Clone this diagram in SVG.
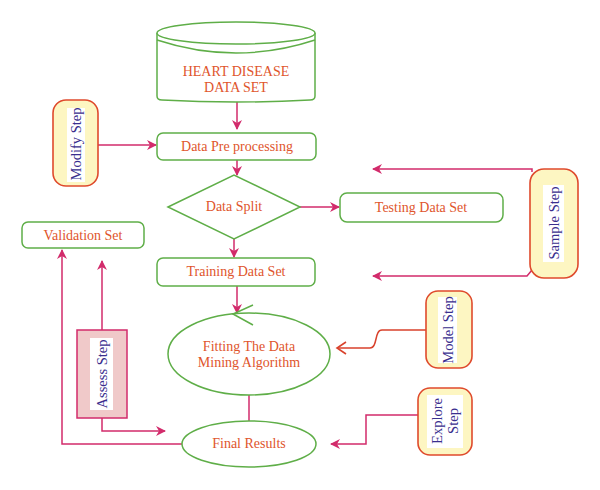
<svg xmlns="http://www.w3.org/2000/svg" width="600" height="490" viewBox="0 0 600 490">
<style>
.box{fill:#fff;stroke:#5fae48;stroke-width:1.5}
.lbl{font-family:"Liberation Serif",serif;font-size:14px;fill:#e0552c;text-anchor:middle;dominant-baseline:central}
.step{fill:#fdf6c2;stroke:#df4a2c;stroke-width:1.6}
.inner{fill:#fff;stroke:none}
.stxt{font-family:"Liberation Serif",serif;font-size:14.5px;fill:#3a2f8e;text-anchor:middle;dominant-baseline:central}
.con{fill:none;stroke:#d22b6b;stroke-width:1.5}
</style>
<defs>
<marker id="ah" viewBox="0 0 10 10" refX="9" refY="5" markerWidth="10" markerHeight="10" markerUnits="userSpaceOnUse" orient="auto">
<path d="M0,0 L10,5 L0,10 L3,5 Z" fill="#d22b6b"/>
</marker>
</defs>
<rect width="600" height="490" fill="#fff"/>

<g id="connectors">
<line class="con" x1="237" y1="100" x2="237" y2="129" marker-end="url(#ah)"/>
<line class="con" x1="98" y1="145" x2="156" y2="145" marker-end="url(#ah)"/>
<line class="con" x1="237" y1="160" x2="237" y2="175" marker-end="url(#ah)"/>
<line class="con" x1="300" y1="207" x2="339" y2="207" marker-end="url(#ah)"/>
<line class="con" x1="234" y1="239" x2="234" y2="257" marker-end="url(#ah)"/>
<polyline class="con" points="532,172 532,169 373,169" marker-end="url(#ah)"/>
<polyline class="con" points="532,270 527,276 373,276" marker-end="url(#ah)"/>
<line class="con" x1="237" y1="286" x2="237" y2="313" marker-end="url(#ah)"/>
<polyline points="253,305 233,314 253,325" fill="none" stroke="#5fae48" stroke-width="1.5"/>
<path d="M426,330 L382,330 C374,330 378,348 370,348 L338,348" fill="none" stroke="#d9422c" stroke-width="1.5"/>
<polyline points="346,342 337,348 346,354" fill="none" stroke="#d9422c" stroke-width="1.6"/>
<line class="con" x1="249" y1="395" x2="249" y2="421"/>
<polyline class="con" points="418,415 366,415 366,444 331,444" marker-end="url(#ah)"/>
<polyline class="con" points="182,444 62,444 62,250" marker-end="url(#ah)"/>
<line class="con" x1="102" y1="330" x2="102" y2="261" marker-end="url(#ah)"/>
<polyline class="con" points="102,418 102,431 165,431" marker-end="url(#ah)"/>
</g>

<g id="dataset">
<path d="M157,33 L157,96 Q157,100 162,100 Q236,104 310,100 Q315,100 315,96 L315,33" fill="#fff" stroke="#5fae48" stroke-width="1.5"/>
<ellipse cx="236" cy="33" rx="79" ry="11" fill="#fff" stroke="#5fae48" stroke-width="1.5"/>
<path d="M157,40 Q236,66 315,40" fill="none" stroke="#5fae48" stroke-width="1.5"/>
<text class="lbl" x="236" y="71" font-size="15">HEART DISEASE</text>
<text class="lbl" x="236" y="87" font-size="15">DATA SET</text>
</g>

<g id="preprocess">
<rect class="box" x="157" y="133" width="159" height="27" rx="6"/>
<text class="lbl" x="237" y="146">Data Pre processing</text>
</g>

<g id="modify">
<rect class="step" x="53" y="100" width="45" height="86" rx="13"/>
<rect class="inner" x="67" y="108" width="18" height="74"/>
<text class="stxt" transform="translate(76,144) rotate(-90)">Modify Step</text>
</g>

<g id="split">
<polygon points="168,207 234,175 300,207 234,239" fill="#fff" stroke="#5fae48" stroke-width="1.5"/>
<text class="lbl" x="234" y="206">Data Split</text>
</g>

<g id="testing">
<rect class="box" x="340" y="193" width="163" height="29" rx="7"/>
<text class="lbl" x="421" y="207">Testing Data Set</text>
</g>

<g id="training">
<rect class="box" x="157" y="258" width="158" height="28" rx="6"/>
<text class="lbl" x="236" y="271">Training Data Set</text>
</g>

<g id="sample">
<rect class="step" x="530" y="169" width="48" height="109" rx="14"/>
<rect class="inner" x="543" y="185" width="21" height="77"/>
<text class="stxt" transform="translate(554,223) rotate(-90)">Sample Step</text>
</g>

<g id="validation">
<rect class="box" x="22" y="222" width="122" height="26" rx="6"/>
<text class="lbl" x="83" y="235">Validation Set</text>
</g>

<g id="assess">
<rect x="77" y="330" width="50" height="88" fill="#f0c9c9" stroke="#d22b6b" stroke-width="1.5"/>
<rect class="inner" x="90" y="338" width="23" height="72"/>
<text class="stxt" transform="translate(102,374) rotate(-90)">Assess Step</text>
</g>

<g id="fitting">
<ellipse cx="249" cy="354" rx="81" ry="41" fill="none" stroke="#5fae48" stroke-width="1.5"/>
<text class="lbl" x="249" y="346">Fitting The Data</text>
<text class="lbl" x="249" y="362">Mining Algorithm</text>
</g>

<g id="model">
<rect class="step" x="426" y="291" width="46" height="77" rx="12"/>
<rect class="inner" x="438" y="297" width="19" height="66"/>
<text class="stxt" transform="translate(448,330) rotate(-90)">Model Step</text>
</g>

<g id="final">
<ellipse cx="249" cy="444" rx="67" ry="23" fill="#fff" stroke="#5fae48" stroke-width="1.5"/>
<text class="lbl" x="249" y="443">Final Results</text>
</g>

<g id="explore">
<rect class="step" x="418" y="388" width="54" height="67" rx="12"/>
<rect class="inner" x="427" y="395" width="36" height="53"/>
<text class="stxt" transform="translate(445,421) rotate(-90)"><tspan x="0" dy="-8">Explore</tspan><tspan x="0" dy="16">Step</tspan></text>
</g>
</svg>
